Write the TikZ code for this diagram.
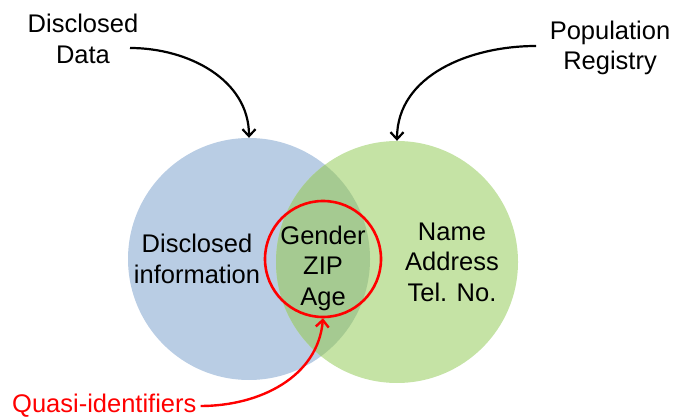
\documentclass[tikz,border=0pt]{standalone}
\usepackage{fontspec}
\setmainfont{Liberation Sans}
\usetikzlibrary{arrows.meta}
\definecolor{cblue}{RGB}{185,205,228}
\definecolor{cgreen}{RGB}{197,227,165}
\definecolor{clens}{RGB}{165,202,145}
\definecolor{cred}{RGB}{255,0,0}
\tikzset{
  lbl/.style={font=\fontsize{25.5}{30.5}\selectfont, align=center, inner sep=0pt},
  blk/.style={-{Straight Barb[length=7pt,width=13pt,line width=2.2pt]}, line width=2.2pt, black},
  redarr/.style={-{Straight Barb[length=7pt,width=13pt,line width=2.4pt]}, line width=2.4pt, cred},
  venn/.style={circle, minimum size=242pt, inner sep=0pt}
}
\begin{document}
\begin{tikzpicture}[x=1pt,y=-1pt]
\useasboundingbox (0,0) rectangle (676,419);
% circles
\node[venn, fill=cblue] (blue) at (249,259) {};
\node[venn, fill=cgreen] (green) at (397,262) {};
\begin{scope}
  \clip (249,259) circle (121);
  \fill[clens] (397,262) circle (121);
\end{scope}
\node[circle, draw=cred, line width=2.6pt, minimum size=116pt, inner sep=0pt] (qi) at (323,259) {};
% texts
\node[lbl] (dd) at (83,39) {Disclosed\\Data};
\node[lbl] (pr) at (610,48) {Population\\Registry};
\node[lbl] (di) at (197,259) {Disclosed\\information};
\node[lbl] (gza) at (323,268) {Gender\\ZIP\\Age};
\node[lbl] (nat) at (452,262) {Name\\Address\\Tel. No.};
\node[lbl, text=cred, anchor=west] (qtxt) at (12,406) {Quasi-identifiers};
% connectors
\coordinate (a1) at (130,48);
\coordinate (a2) at (536,46);
\coordinate (a3) at ([xshift=4pt]qtxt.east);
\draw[blk] (a1) to[out=0,in=90] (blue.north);
\draw[blk] (a2) to[out=180,in=90] (green.north);
\draw[redarr] (a3) to[out=0,in=-95] (qi.south);
\end{tikzpicture}
\end{document}
